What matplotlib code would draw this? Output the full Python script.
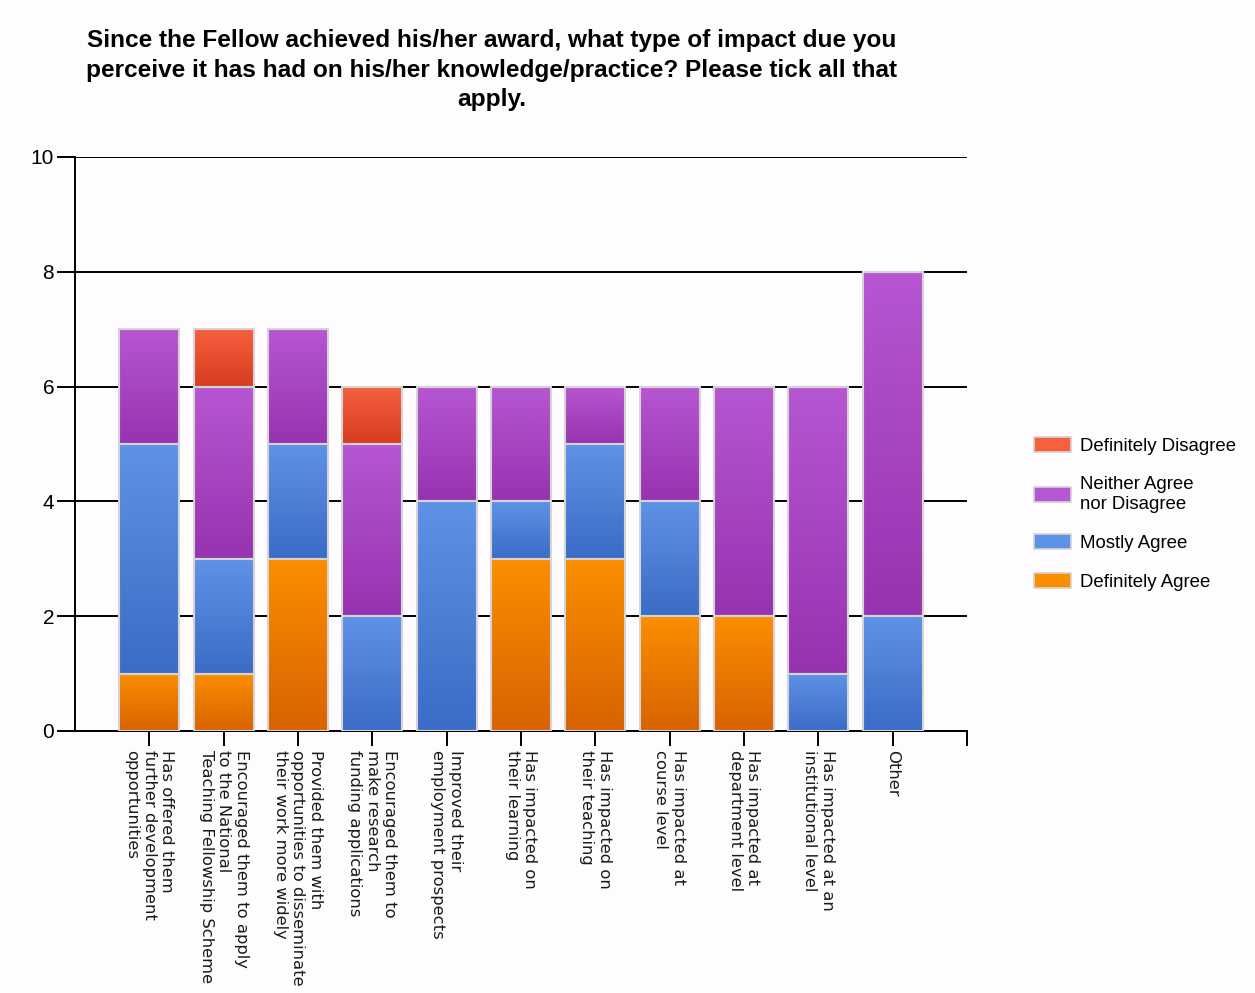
import numpy as np
import matplotlib
matplotlib.use("Agg")
import matplotlib.pyplot as plt
from matplotlib.colors import LinearSegmentedColormap, to_rgb
from matplotlib.patches import Patch

# --- data -------------------------------------------------------------
categories = [
    "Has offered them\nfurther development\nopportunities",
    "Encouraged them to apply\nto the National\nTeaching Fellowship Scheme",
    "Provided them with\nopportunities to disseminate\ntheir work more widely",
    "Encouraged them to\nmake research\nfunding applications",
    "Improved their\nemployment prospects",
    "Has impacted on\ntheir learning",
    "Has impacted on\ntheir teaching",
    "Has impacted at\ncourse level",
    "Has impacted at\ndepartment level",
    "Has impacted at an\ninstitutional level",
    "Other",
]
definitely_agree = [1, 1, 3, 0, 0, 3, 3, 2, 2, 0, 0]
mostly_agree = [4, 2, 2, 2, 4, 1, 2, 2, 0, 1, 2]
neither = [2, 3, 2, 3, 2, 2, 1, 2, 4, 5, 6]
definitely_disagree = [0, 1, 0, 1, 0, 0, 0, 0, 0, 0, 0]

series_names = ["Definitely Agree", "Mostly Agree",
                "Neither Agree\nnor Disagree", "Definitely Disagree"]
series_values = [definitely_agree, mostly_agree, neither, definitely_disagree]
# (top colour, bottom colour) of each segment's vertical gradient
series_colors = [("#fb8e00", "#d86300"),
                 ("#5e92e6", "#3b6cc6"),
                 ("#b756d2", "#9833b0"),
                 ("#f5603f", "#d63c1f")]

y_ticks = [0, 2, 4, 6, 8, 10]
title = ("Since the Fellow achieved his/her award, what type of impact due you\n"
         "perceive it has had on his/her knowledge/practice? Please tick all that\n"
         "apply.")

# --- figure -----------------------------------------------------------
bg = "#fffcff"
sans = ["Liberation Sans", "DejaVu Sans"]
fig = plt.figure(figsize=(12.55, 9.93), dpi=100, facecolor=bg)
ax = fig.add_axes([75 / 1255, 1 - 731 / 993, 892 / 1255, 574 / 993])
ax.set_facecolor(bg)

x = np.arange(len(categories))
bar_w = 0.81
bottom = np.zeros(len(categories))

for vals, (c_top, c_bot) in zip(series_values, series_colors):
    vals = np.asarray(vals, dtype=float)
    bars = ax.bar(x, vals, bar_w, bottom=bottom, facecolor="none",
                  edgecolor="#d4d4d4", linewidth=1.5, zorder=3)
    cmap = LinearSegmentedColormap.from_list("g", [to_rgb(c_bot), to_rgb(c_top)])
    grad = np.linspace(1, 0, 64).reshape(-1, 1)
    for rect, v in zip(bars.patches, vals):
        if v <= 0:
            continue
        x0, y0 = rect.get_x(), rect.get_y()
        ax.imshow(grad, cmap=cmap, aspect="auto", interpolation="bilinear",
                  extent=[x0, x0 + rect.get_width(), y0, y0 + rect.get_height()],
                  zorder=2, vmin=0, vmax=1)
    bottom += vals

ax.set_xlim(-1, len(categories))
ax.set_ylim(0, 10)

# grid and spines
ax.set_yticks(y_ticks)
ax.set_yticklabels([str(t) for t in y_ticks], family=sans, fontsize=15)
ax.yaxis.grid(True, color="black", linewidth=1.4, zorder=1)
ax.set_axisbelow(True)
for s in ["top", "right"]:
    ax.spines[s].set_visible(False)
for s in ["left", "bottom"]:
    ax.spines[s].set_linewidth(1.4)
ax.tick_params(axis="y", length=13, width=1.4, pad=2)

ax.set_xticks(list(x) + [len(categories)])
ax.set_xticklabels(categories + [""], rotation=270, ha="center", va="top",
                   multialignment="left", fontsize=11.8, color="#1a1a1a",
                   linespacing=1.22)
ax.tick_params(axis="x", length=11, width=1.4, pad=3)

# title
fig.text(492 / 1255, 1 - 70 / 993, title, ha="center", va="center",
         fontsize=17.6, fontweight="bold", family=sans, linespacing=1.38)

# legend
handles = [Patch(facecolor=series_colors[i][0], edgecolor="#d4d4d4", linewidth=1.2)
           for i in range(3, -1, -1)]
labels = [series_names[i] for i in range(3, -1, -1)]
fig.legend(handles, labels, loc="center left",
           bbox_to_anchor=(1034 / 1255, 1 - 514 / 993), frameon=False,
           prop={"family": sans, "size": 13.4},
           handlelength=2.0, handleheight=0.85, handletextpad=0.45,
           labelspacing=1.15, borderaxespad=0, borderpad=0)

fig.savefig("out.png", dpi=100, facecolor=bg)
